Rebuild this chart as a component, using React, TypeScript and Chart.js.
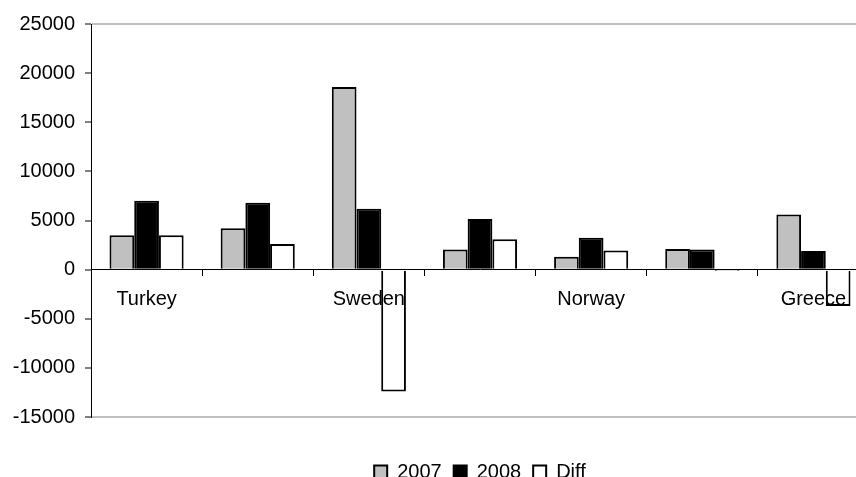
import React, { useEffect, useRef } from "react";
import { Chart, registerables } from "chart.js";

Chart.register(...registerables);

const categories = ["Turkey", "", "Sweden", "", "Norway", "", "Greece"];
const values2007 = [3500, 4200, 18600, 2050, 1300, 2100, 5600];
const values2008 = [7000, 6800, 6200, 5150, 3250, 2050, 1900];
const valuesDiff = [3500, 2600, -12400, 3100, 1950, -50, -3700];
const seriesNames = ["2007", "2008", "Diff"];
const yMin = -15000;
const yMax = 25000;
const yStep = 5000;

const FONT = "'Liberation Sans', Arial, sans-serif";

export default function App() {
  const ref = useRef<HTMLCanvasElement | null>(null);

  useEffect(() => {
    if (!ref.current) return;
    const chart = new Chart(ref.current, {
      type: "bar",
      data: {
        labels: categories,
        datasets: [
          { label: seriesNames[0], data: values2007, backgroundColor: "#c0c0c0", borderColor: "#000", borderWidth: 2 },
          { label: seriesNames[1], data: values2008, backgroundColor: "#000000", borderColor: "#000", borderWidth: 2 },
          { label: seriesNames[2], data: valuesDiff, backgroundColor: "#ffffff", borderColor: "#000", borderWidth: 2 },
        ],
      },
      options: {
        responsive: false,
        animation: false,
        devicePixelRatio: 1,
        layout: { padding: { top: 24, right: 1, left: 0, bottom: 0 } },
        datasets: { bar: { categoryPercentage: 0.667, barPercentage: 1.0 } },
        plugins: {
          tooltip: { enabled: false },
          legend: {
            position: "bottom",
            fullSize: false,
            title: {
              display: true,
              text: "",
              font: { size: 1, lineHeight: 1 },
              padding: { top: 32, bottom: 0 },
            },
            labels: {
              boxWidth: 13,
              boxHeight: 13,
              padding: 12,
              color: "#000",
              font: { family: FONT, size: 20 },
            },
          },
        },
        scales: {
          x: {
            position: { y: 0 },
            grid: {
              offset: true,
              drawOnChartArea: false,
              drawTicks: true,
              tickLength: 6,
              tickColor: "#000",
              tickWidth: 1,
            },
            border: { display: true, color: "#000", width: 1, z: 1 },
            ticks: {
              z: 1,
              autoSkip: false,
              maxRotation: 0,
              padding: 12,
              color: "#000",
              font: { family: FONT, size: 20 },
            },
          },
          y: {
            min: yMin,
            max: yMax,
            grid: {
              color: (ctx: any) =>
                ctx.tick && (ctx.tick.value === yMax || ctx.tick.value === yMin) ? "#c0c0c0" : "rgba(0,0,0,0)",
              lineWidth: 2,
              drawTicks: true,
              tickLength: 6,
              tickColor: "#000",
              tickWidth: 1,
            },
            border: { display: true, color: "#000", width: 1 },
            ticks: {
              stepSize: yStep,
              padding: 10,
              color: "#000",
              font: { family: FONT, size: 20 },
              callback: (v: any) => String(v),
            },
            afterFit: (scale: any) => {
              scale.width = 91;
            },
          },
        },
      },
    });
    return () => chart.destroy();
  }, []);

  return (
    <div style={{ position: "fixed", left: 0, top: 0, width: 856, height: 477, overflow: "hidden", background: "#fff" }}>
      <canvas ref={ref} width={870} height={492} />
    </div>
  );
}
